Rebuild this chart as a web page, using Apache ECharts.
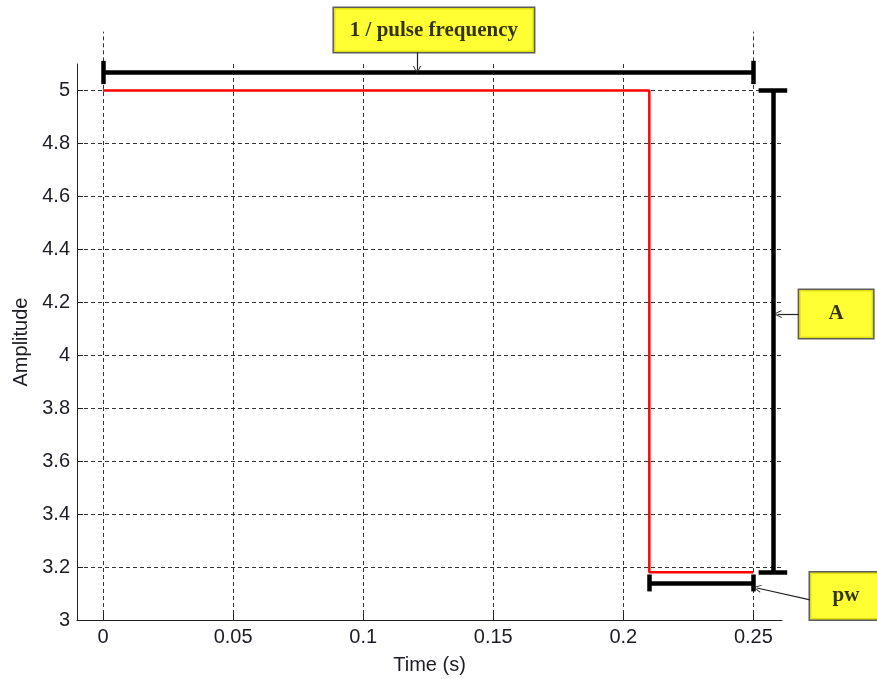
<!DOCTYPE html>
<html>
<head>
<meta charset="utf-8">
<script src="https://cdn.jsdelivr.net/npm/echarts@6/dist/echarts.min.js"></script>
<style>
  html, body { margin: 0; padding: 0; background: #fff; }
  #chart { width: 877px; height: 679px; }
</style>
</head>
<body>
<div id="chart"></div>
<script>
// One period of a rectangular pulse train
const pulseTime = [0, 0.21, 0.21, 0.25];
const pulseAmplitude = [5, 5, 3.18, 3.18];

// Axis ticks
const timeTicks = [0, 0.05, 0.1, 0.15, 0.2, 0.25];
const amplitudeTicks = [3, 3.2, 3.4, 3.6, 3.8, 4, 4.2, 4.4, 4.6, 4.8, 5];

// Dimension spans
const periodSpan = [0, 0.25];        // 1 / pulse frequency (time)
const amplitudeSpan = [3.18, 5];     // A (amplitude)
const pulseWidthSpan = [0.21, 0.25]; // pw (time)

// Callout boxes
const calloutText = ['1 / pulse frequency', 'A', 'pw'];
const calloutTime = [0.1272, 0.2818, 0.2856];
const calloutAmplitude = [5.228, 4.156, 3.091];

// Callout leader arrows: start and tip, in (time, amplitude)
const leaderFrom = [[0.1207, 5.145], [0.2675, 4.156], [0.2718, 3.076]];
const leaderTo = [[0.1207, 5.077], [0.2593, 4.156], [0.2514, 3.121]];

// Where each dimension bracket sits
const periodLevel = 5.068;
const amplitudeAt = 0.2575;
const pulseWidthLevel = 3.14;

const fmt = v => String(+(+v).toFixed(2));

// Bracket segments: main bar plus end caps
function hBracket(span, level, capHalf) {
  return [
    { coords: [[span[0], level], [span[1], level]] },
    { coords: [[span[0], level - capHalf], [span[0], level + capHalf]] },
    { coords: [[span[1], level - capHalf], [span[1], level + capHalf]] }
  ];
}
function vBracket(span, at, capHalf) {
  return [
    { coords: [[at, span[0]], [at, span[1]]] },
    { coords: [[at - capHalf, span[0]], [at + capHalf, span[0]]] },
    { coords: [[at - capHalf, span[1]], [at + capHalf, span[1]]] }
  ];
}

const bracketSegments = []
  .concat(hBracket(periodSpan, periodLevel, 0.044))
  .concat(vBracket(amplitudeSpan, amplitudeAt, 0.0055))
  .concat(hBracket(pulseWidthSpan, pulseWidthLevel, 0.032));

// Dotted extension lines above the plot at the period ends
const extensionSegments = periodSpan.map(t => ({ coords: [[t, 5.11], [t, 5.222]] }));

const leaderSegments = leaderFrom.map((f, i) => ({ coords: [f, leaderTo[i]] }));

const boxSize = [[200, 44], [74, 48], [72, 47]];
const calloutData = calloutText.map((txt, i) => ({
  name: txt,
  value: [calloutTime[i], calloutAmplitude[i]],
  label: { width: boxSize[i][0], height: boxSize[i][1], lineHeight: boxSize[i][1] }
}));

const axisFont = { fontFamily: 'Liberation Sans', fontSize: 20, color: '#1c1c24' };
const nameFont = { fontFamily: 'Liberation Sans', fontSize: 20, color: '#1c1c24' };
const gridDash = { color: '#333', width: 1, type: [4, 3] };

const chart = echarts.init(document.getElementById('chart'), null, { renderer: 'canvas' });
chart.setOption({
  animation: false,
  backgroundColor: '#fff',
  grid: { left: 77, right: 95, top: 64, bottom: 59, containLabel: false, outerBoundsMode: 'none' },
  xAxis: {
    type: 'value',
    min: -0.01,
    max: 0.261,
    name: 'Time (s)',
    nameLocation: 'middle',
    nameGap: 35,
    nameTextStyle: nameFont,
    axisLine: { show: true, onZero: false, lineStyle: { color: '#222', width: 1 } },
    axisTick: { show: true, inside: true, length: 6, customValues: timeTicks, lineStyle: { color: '#222' } },
    axisLabel: Object.assign({ customValues: timeTicks, margin: 7, formatter: fmt }, axisFont),
    splitLine: { show: true, lineStyle: gridDash }
  },
  yAxis: {
    type: 'value',
    min: 3,
    max: 5.1,
    name: 'Amplitude',
    nameLocation: 'middle',
    nameGap: 42,
    nameRotate: 90,
    nameTextStyle: nameFont,
    axisLine: { show: true, onZero: false, lineStyle: { color: '#222', width: 1 } },
    axisTick: { show: true, inside: true, length: 6, customValues: amplitudeTicks, lineStyle: { color: '#222' } },
    axisLabel: Object.assign({ customValues: amplitudeTicks, margin: 7, formatter: fmt }, axisFont),
    splitLine: { show: true, lineStyle: gridDash }
  },
  series: [
    {
      type: 'line',
      name: 'pulse',
      data: pulseTime.map((t, i) => [t, pulseAmplitude[i]]),
      showSymbol: false,
      lineStyle: { color: '#ff0000', width: 2.5 },
      z: 3
    },
    {
      type: 'lines',
      coordinateSystem: 'cartesian2d',
      clip: false,
      data: extensionSegments,
      lineStyle: { color: '#333', width: 1, type: [4, 3], opacity: 1 },
      z: 2
    },
    {
      type: 'lines',
      coordinateSystem: 'cartesian2d',
      clip: false,
      data: bracketSegments,
      lineStyle: { color: '#000', width: 4.5, opacity: 1, cap: 'butt' },
      z: 4
    },
    {
      type: 'lines',
      coordinateSystem: 'cartesian2d',
      clip: false,
      data: leaderSegments,
      symbol: ['none', 'path://M0,10 L5,0 L10,10 L8.8,10 L5,2.4 L1.2,10 Z'],
      symbolSize: [10, 8],
      lineStyle: { color: '#222', width: 1.2, opacity: 1 },
      z: 5
    },
    {
      type: 'scatter',
      clip: false,
      data: calloutData,
      symbolSize: 1,
      itemStyle: { color: 'rgba(0,0,0,0)' },
      label: {
        show: true,
        position: 'inside',
        formatter: p => p.name,
        fontFamily: 'Liberation Serif',
        fontWeight: 'bold',
        fontSize: 21,
        color: '#000',
        backgroundColor: '#ffff00',
        borderColor: '#333',
        borderWidth: 1.5,
        padding: 0,
        align: 'center',
        verticalAlign: 'middle'
      },
      z: 6
    }
  ]
});
</script>
</body>
</html>
